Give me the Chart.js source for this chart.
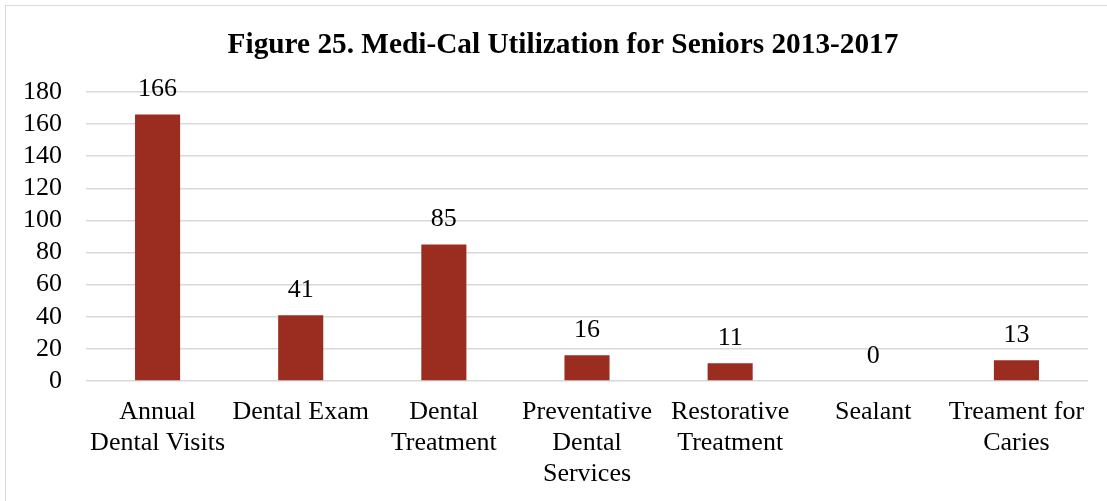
<!DOCTYPE html>
<html>
<head>
<meta charset="utf-8">
<script src="https://cdn.jsdelivr.net/npm/chart.js@4"></script>
<style>
  html, body { margin: 0; padding: 0; background: #fff; overflow: hidden; }
  #frame { position: absolute; left: 5px; top: 5px; width: 1200px; height: 600px; border: 1px solid #d9d9d9; }
  #wrap { position: absolute; left: 5px; top: 0; width: 1116px; height: 501px; }
</style>
</head>
<body>
<div id="frame"></div>
<div id="wrap"><canvas id="myChart"></canvas></div>
<script>
const chartTitle = 'Figure 25. Medi-Cal Utilization for Seniors 2013-2017'
const categories = [
  ['Annual', 'Dental Visits'],
  'Dental Exam',
  ['Dental', 'Treatment'],
  ['Preventative', 'Dental', 'Services'],
  ['Restorative', 'Treatment'],
  'Sealant',
  ['Treament for', 'Caries']
]
const utilization = [166, 41, 85, 16, 11, 0, 13]
const yTicks = [0, 20, 40, 60, 80, 100, 120, 140, 160, 180]

const serif = "'Liberation Serif', 'Times New Roman', serif"

// value above each bar + title centred on the whole chart box
const extras = {
  id: 'extras',
  afterDraw(chart) {
    const ctx = chart.ctx
    const meta = chart.getDatasetMeta(0)
    ctx.save()
    ctx.fillStyle = '#000'
    ctx.textAlign = 'center'
    ctx.textBaseline = 'middle'
    ctx.font = '26px ' + serif
    meta.data.forEach((bar, i) => {
      ctx.fillText(String(utilization[i]), bar.x, bar.y - 25)
    })
    ctx.font = 'bold 29.3px ' + serif
    ctx.fillText(chartTitle, chart.width / 2, 45)
    ctx.restore()
  }
}

const ctx = document.getElementById('myChart')

new Chart(ctx, {
  type: 'bar',
  data: {
    labels: categories,
    datasets: [{
      data: utilization,
      backgroundColor: '#9b2d20',
      barPercentage: 0.315,
      categoryPercentage: 1
    }]
  },
  options: {
    responsive: true,
    maintainAspectRatio: false,
    animation: false,
    layout: { padding: { left: 0, right: 33, top: 92, bottom: 0 } },
    plugins: {
      legend: { display: false },
      tooltip: { enabled: false }
    },
    scales: {
      x: {
        grid: { display: false },
        border: { display: false },
        ticks: {
          color: '#000',
          font: { family: serif, size: 26, lineHeight: 1.19 },
          padding: 8,
          maxRotation: 0,
          autoSkip: false
        },
        afterFit(scale) { scale.height = 120 }
      },
      y: {
        min: 0,
        max: 180,
        afterBuildTicks(scale) { scale.ticks = yTicks.map(v => ({ value: v })) },
        grid: { color: '#d9d9d9', lineWidth: 1.5, drawTicks: false },
        border: { display: false },
        ticks: {
          color: '#000',
          font: { family: serif, size: 26 },
          padding: 24,
          autoSkip: false
        },
        afterFit(scale) { scale.width = 81 }
      }
    }
  },
  plugins: [extras]
})
</script>
</body>
</html>
